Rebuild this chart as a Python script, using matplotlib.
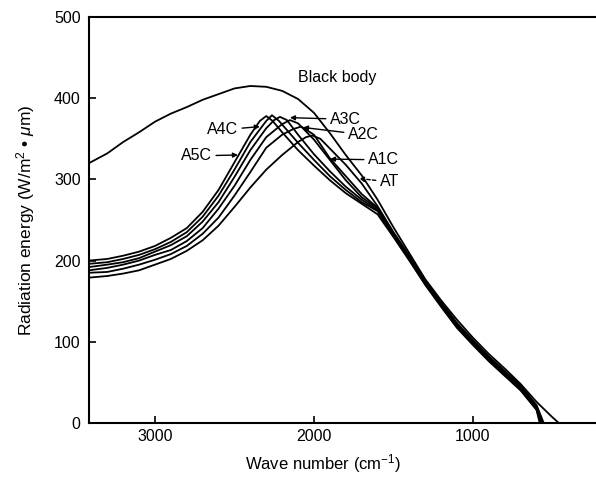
import matplotlib
matplotlib.use("Agg")
import matplotlib.pyplot as plt

plt.rcParams["font.family"] = ["Liberation Sans", "DejaVu Sans"]
plt.rcParams["mathtext.fontset"] = "custom"
plt.rcParams["mathtext.rm"] = "Liberation Sans"
plt.rcParams["mathtext.it"] = "Liberation Sans:italic"

# black body curve
bb_wn = [3415, 3300, 3200, 3100, 3000, 2900, 2800, 2700, 2600, 2500, 2400, 2300, 2200, 2100,
         2000, 1900, 1800, 1700, 1600, 1500, 1400, 1300, 1200, 1100, 1000, 900, 800, 700, 600,
         500, 460]
bb = [320, 332, 346, 358, 371, 381, 389, 398, 405, 412, 415, 414, 409, 399,
      382, 357, 330, 305, 275, 241, 209, 177, 151, 127, 105, 85, 67, 48, 26,
      7, 0]

a5c_wn = [3415, 3300, 3200, 3100, 3000, 2900, 2800, 2700, 2600, 2500, 2400, 2340, 2300, 2260,
          2200, 2100, 2000, 1900, 1800, 1700, 1600, 1500, 1400, 1300, 1200, 1100, 1000, 900,
          800, 700, 600, 580]
a5c = [200, 202, 206, 211, 218, 228, 240, 260, 287, 321, 355, 372, 378, 372,
       358, 336, 317, 299, 283, 270, 257, 229, 200, 170, 143, 117, 96, 76,
       58, 40, 16, 0]

a4c_wn = [3415, 3300, 3200, 3100, 3000, 2900, 2800, 2700, 2600, 2500, 2400, 2300, 2264, 2220,
          2100, 2000, 1900, 1800, 1700, 1600, 1500, 1400, 1300, 1200, 1100, 1000, 900, 800,
          700, 600, 575]
a4c = [196, 198, 202, 207, 214, 223, 235, 254, 280, 312, 346, 372, 379, 372,
       345, 324, 304, 287, 272, 261, 230, 201, 171, 144, 118, 97, 77, 59,
       41, 17, 0]

a3c_wn = [3415, 3300, 3200, 3100, 3000, 2900, 2800, 2700, 2600, 2500, 2400, 2300, 2250, 2214,
          2170, 2100, 2000, 1900, 1800, 1700, 1600, 1500, 1400, 1300, 1200, 1100, 1000, 900,
          800, 700, 600, 570]
a3c = [192, 195, 198, 203, 211, 219, 230, 248, 272, 303, 336, 363, 373, 377,
       373, 355, 331, 310, 291, 275, 262, 232, 203, 173, 146, 120, 99, 79,
       61, 43, 19, 0]

a2c_wn = [3415, 3300, 3200, 3100, 3000, 2900, 2800, 2700, 2600, 2500, 2400, 2300, 2200, 2151,
          2100, 2000, 1900, 1800, 1700, 1600, 1500, 1400, 1300, 1200, 1100, 1000, 900, 800,
          700, 600, 565]
a2c = [188, 191, 195, 200, 207, 213, 224, 240, 264, 292, 324, 352, 368, 373,
       369, 349, 324, 299, 278, 264, 233, 204, 174, 147, 121, 100, 80, 62,
       44, 20, 0]

a1c_wn = [3415, 3300, 3200, 3100, 3000, 2900, 2800, 2700, 2600, 2500, 2400, 2300, 2200, 2130,
          2080, 2000, 1900, 1800, 1700, 1600, 1500, 1400, 1300, 1200, 1100, 1000, 900, 800,
          700, 600, 560]
a1c = [185, 186, 190, 195, 201, 208, 218, 233, 253, 280, 309, 339, 355, 362,
       365, 355, 326, 304, 282, 265, 234, 205, 175, 148, 122, 101, 81, 63,
       45, 21, 0]

at_wn = [3415, 3300, 3200, 3100, 3000, 2900, 2800, 2700, 2600, 2500, 2400, 2300, 2200, 2100,
         2050, 2010, 1960, 1900, 1800, 1700, 1600, 1500, 1400, 1300, 1200, 1100, 1000, 900,
         800, 700, 600, 555]
at = [179, 181, 184, 188, 195, 202, 212, 225, 243, 266, 290, 312, 330, 346,
      352, 354, 350, 338, 318, 295, 267, 235, 206, 176, 149, 123, 102, 82,
      64, 46, 22, 0]

# label text, text position, arrow target
labels = ["A5C", "A4C", "A3C", "A2C", "A1C", "AT"]
label_xy = [(2642, 329), (2478, 361), (1899, 374), (1786, 355), (1660, 324), (1585, 297)]
arrow_xy = [(2478, 330), (2340, 365), (2151, 376), (2069, 364), (1899, 325), (1717, 301)]

fig = plt.figure(figsize=(5.96, 4.78), dpi=100)
ax = fig.add_axes([0.1493, 0.1151, 0.8507, 0.8494])

for wn, y in [(bb_wn, bb), (a5c_wn, a5c), (a4c_wn, a4c), (a3c_wn, a3c),
              (a2c_wn, a2c), (a1c_wn, a1c), (at_wn, at)]:
    ax.plot(wn, y, color="black", lw=1.3)

ax.text(1855, 426, "Black body", fontsize=11.5, ha="center", va="center")

for name, txy, axy in zip(labels, label_xy, arrow_xy):
    ha = "right" if txy[0] > axy[0] else "left"
    ls = (0, (2.5, 1.5)) if name == "AT" else "-"
    ax.annotate(name, xy=axy, xytext=txy, fontsize=11.5, ha=ha, va="center",
                arrowprops=dict(arrowstyle="-|>", color="black", lw=1.0, ls=ls,
                                mutation_scale=7, shrinkA=1, shrinkB=0))

ax.set_xlim(3415, 226)
ax.set_ylim(0, 500)
ax.set_xticks([3000, 2000, 1000])
ax.set_yticks([0, 100, 200, 300, 400, 500])
ax.tick_params(direction="in", length=5, width=1.2, labelsize=11.5)
ax.tick_params(axis="y", pad=6)
ax.tick_params(axis="x", pad=4)
ax.spines["right"].set_visible(False)
for s in ["left", "bottom", "top"]:
    ax.spines[s].set_linewidth(1.5)

ax.set_xlabel("Wave number (cm$^{-1}$)", fontsize=12)
ax.xaxis.set_label_coords(0.4615, -0.071)
ax.set_ylabel("Radiation energy (W/m$^{2}$ \u2022 $\\mathit{\u03bc}$m)", fontsize=12.5)
ax.yaxis.set_label_coords(-0.103, 0.5)

fig.savefig("out.png", dpi=100)
